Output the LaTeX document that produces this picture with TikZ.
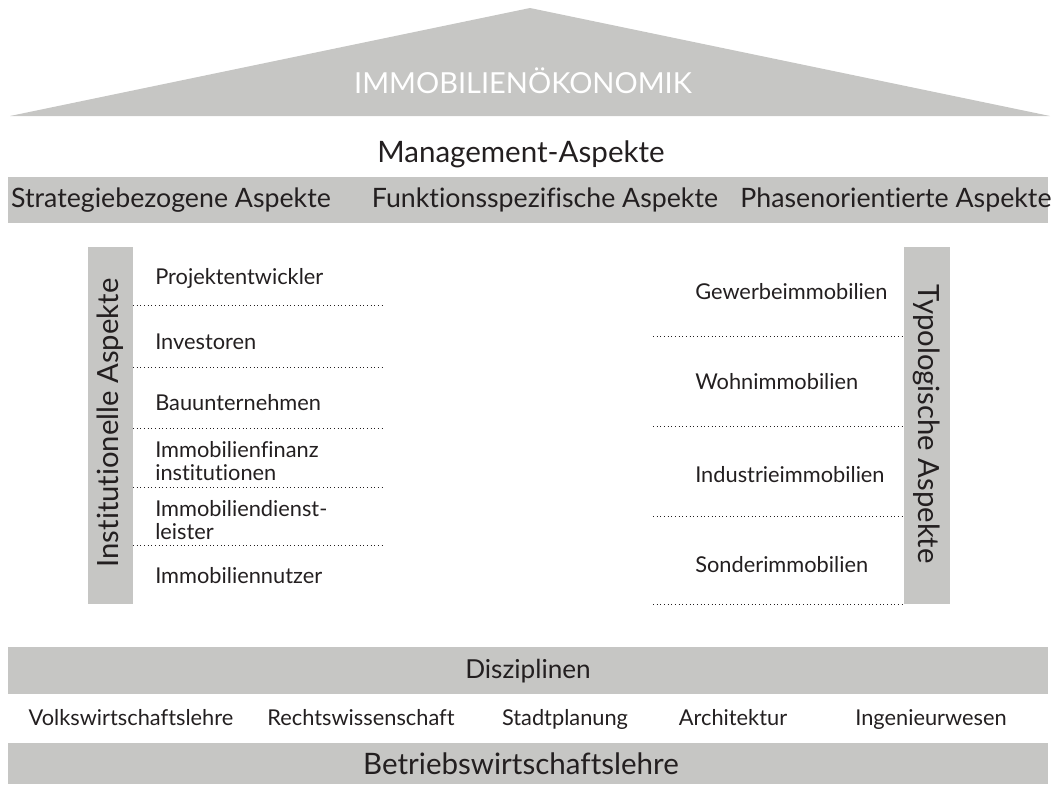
\documentclass[tikz,border=0pt]{standalone}
\usepackage{fontspec}
\setmainfont{Lato}[Ligatures={NoCommon}]
\usetikzlibrary{positioning}

\definecolor{roofgrey}{HTML}{C6C6C4}
\definecolor{inktext}{HTML}{231F20}

\begin{document}
\begin{tikzpicture}[
  x=0.025cm,y=-0.025cm,
  band/.style={fill=roofgrey,draw=none},
  bandtext/.style={font=\fontsize{19}{23}\selectfont,text=inktext,inner sep=0pt,anchor=base},
  bigtext/.style={bandtext,font=\fontsize{21}{25}\selectfont},
  pillartext/.style={font=\fontsize{20.8}{24}\selectfont,text=inktext,inner sep=0pt},
  item/.style={font=\fontsize{15.5}{16.5}\selectfont,text=inktext,align=left,anchor=west,inner sep=0pt},
  disc/.style={font=\fontsize{15.5}{18}\selectfont,text=inktext,inner sep=0pt,anchor=base},
  sep/.style={dotted,line width=0.6pt,inktext}
]
\useasboundingbox (0,0) rectangle (1056,784);

% roof
\fill[band] (10,116) -- (530,8) -- (1050,116) -- cycle;
\node[font=\fontsize{20.6}{24}\selectfont,text=white,inner sep=0pt,anchor=base] (roof) at (523,93) {IMMOBILIENÖKONOMIK};

% management
\node[bigtext] (mgmt) at (521,162) {Management-Aspekte};
\fill[band] (8,177) rectangle (1048,223);
\node[bandtext] (strat) at (171,207) {Strategiebezogene Aspekte};
\node[bandtext] (funk) at (545,207) {Funktionsspezifische Aspekte};
\node[bandtext] (phase) at (896,207) {Phasenorientierte Aspekte};

% institutionelle Aspekte
\fill[band] (88,247) rectangle (133,604);
\node[pillartext,rotate=90] (inst) at (110.5,423) {Institutionelle Aspekte};
\node[item] (projekt) at (155,278) {Projektentwickler};
\node[item] (invest) at (155,342) {Investoren};
\node[item] (bau) at (155,403) {Bauunternehmen};
\node[item] (finanz) at (155,461) {Immobilienfinanz\\institutionen};
\node[item] (dienst) at (155,520) {Immobiliendienst-\\leister};
\node[item] (nutzer) at (155,576) {Immobiliennutzer};
\draw[sep] (133,305) -- (383,305);
\draw[sep] (133,367) -- (383,367);
\draw[sep] (133,428) -- (383,428);
\draw[sep] (133,487) -- (383,487);
\draw[sep] (133,545) -- (383,545);

% typologische Aspekte
\fill[band] (904,247) rectangle (950,604);
\node[pillartext,rotate=-90] (typo) at (927,424) {Typologische Aspekte};
\node[item] (gewerbe) at (695,292) {Gewerbeimmobilien};
\node[item] (wohn) at (695,382) {Wohnimmobilien};
\node[item] (industrie) at (695,475) {Industrieimmobilien};
\node[item] (sonder) at (695,565) {Sonderimmobilien};
\draw[sep] (653,336) -- (904,336);
\draw[sep] (653,426) -- (904,426);
\draw[sep] (653,516) -- (904,516);
\draw[sep] (653,604) -- (904,604);

% Disziplinen
\fill[band] (8,647) rectangle (1048,694);
\node[bandtext,font=\fontsize{18.6}{22}\selectfont] (diszi) at (528,678) {Disziplinen};
\node[disc] (vwl) at (131,725) {Volkswirtschaftslehre};
\node[disc] (recht) at (361,725) {Rechtswissenschaft};
\node[disc] (stadt) at (565,725) {Stadtplanung};
\node[disc] (archi) at (733,725) {Architektur};
\node[disc] (ing) at (931,725) {Ingenieurwesen};
\fill[band] (8,743) rectangle (1048,784);
\node[bigtext] (bwl) at (521,774) {Betriebswirtschaftslehre};
\end{tikzpicture}
\end{document}
